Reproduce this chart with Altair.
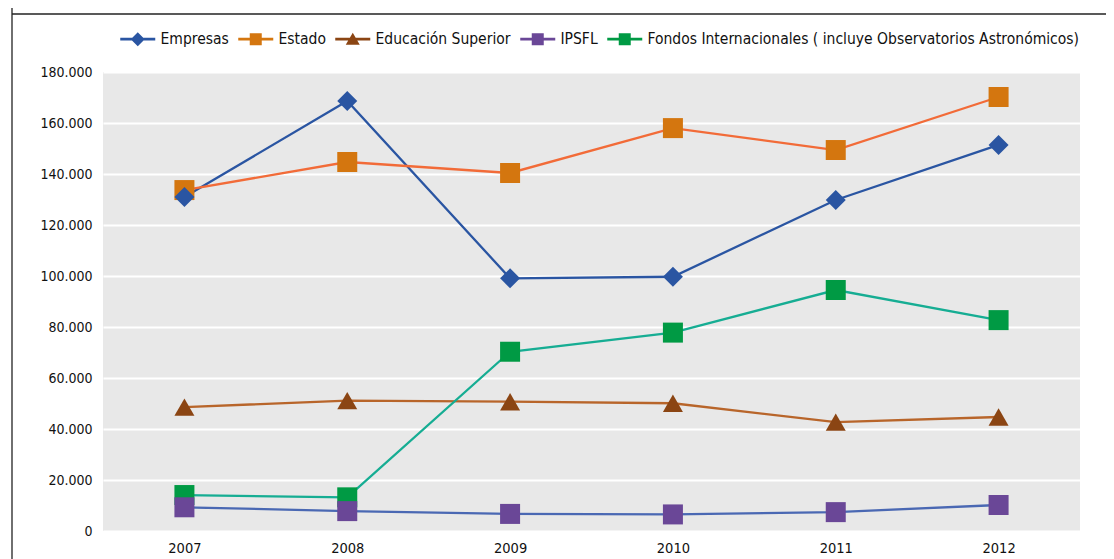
import altair as alt
import pandas as pd

years = ["2007", "2008", "2009", "2010", "2011", "2012"]
series = ["Empresas", "Estado", "Educación Superior", "IPSFL",
          "Fondos Internacionales ( incluye Observatorios Astronómicos)"]
empresas = [131000, 168600, 99100, 99700, 129800, 151400]
estado = [133700, 144700, 140400, 158000, 149400, 170200]
educacion = [48600, 51100, 50700, 50100, 42700, 44700]
ipsfl = [9300, 7800, 6700, 6500, 7400, 10200]
fondos = [14100, 13200, 70300, 77800, 94500, 82700]

line_colors = ["#2A55A2", "#F26B38", "#B8652A", "#4A68B3", "#16AD93"]
marker_colors = ["#2A55A2", "#D4760F", "#8B4513", "#6A4797", "#009A44"]
marker_shapes = ["diamond", "square", "triangle-up", "square", "square"]
y_ticks = [0, 20000, 40000, 60000, 80000, 100000, 120000, 140000, 160000, 180000]

rows = []
for s, vals in zip(series, [empresas, estado, educacion, ipsfl, fondos]):
    for y, v in zip(years, vals):
        rows.append({"year": y, "serie": s, "value": v})
df = pd.DataFrame(rows)
# earlier series drawn on top of later ones
df_points = df.iloc[::-1].reset_index(drop=True)

FONT = "Liberation Sans Narrow, DejaVu Sans Condensed, Roboto Condensed, Arial Narrow, sans-serif"

W, H = 977, 459

# legend symbol paths (line + marker), unit = sqrt(symbolSize)/2
bar = "M-3.5,-0.28H3.5V0.28H-3.5Z "
p_diamond = bar + "M0,-1.4L1.4,0L0,1.4L-1.4,0Z"
p_square = bar + "M-1.2,-1.2H1.2V1.2H-1.2Z"
p_tri = bar + "M0,-1.3L1.4,1.1H-1.4Z"
legend_shapes = [p_diamond, p_square, p_tri, p_square, p_square]

x_enc = alt.X("year:O", sort=years,
              scale=alt.Scale(type="point", padding=0.5),
              axis=alt.Axis(title=None, labelAngle=0, ticks=False, domain=False,
                            labelFont=FONT, labelFontSize=14.5, labelColor="#111111",
                            labelPadding=10, grid=False))
y_enc = alt.Y("value:Q",
              scale=alt.Scale(domain=[0, 180000], nice=False),
              axis=alt.Axis(title=None, values=y_ticks, ticks=False, domain=False,
                            labelFont=FONT, labelFontSize=14, labelColor="#111111",
                            labelPadding=11, gridColor="white", gridWidth=2.2,
                            labelExpr="datum.value == 0 ? '0' : replace(format(datum.value, ','), ',', '.')"))

lines = alt.Chart(df).mark_line(strokeWidth=2.3).encode(
    x=x_enc, y=y_enc,
    stroke=alt.Stroke("serie:N", sort=series,
                      scale=alt.Scale(domain=series, range=line_colors), legend=None),
    detail="serie:N",
)

points = alt.Chart(df_points).mark_point(filled=True, opacity=1, size=400).encode(
    x=x_enc, y=y_enc,
    fill=alt.Fill("serie:N", sort=series,
                  scale=alt.Scale(domain=series, range=marker_colors), legend=None),
    shape=alt.Shape("serie:N", sort=series,
                    scale=alt.Scale(domain=series, range=marker_shapes), legend=None),
)

leg_kw = dict(title=None, orient="none", direction="horizontal",
              legendX=27, legendY=-41,
              labelFont=FONT, labelFontSize=15.5, labelColor="#111111",
              labelLimit=800,
              symbolSize=100, labelOffset=15, columnPadding=9,
              symbolStrokeWidth=0)
legend_layer = alt.Chart(df).transform_filter("false").mark_point(
    filled=True, opacity=1, size=100
).encode(
    x=x_enc, y=y_enc,
    fill=alt.Fill("serie:N", sort=series,
                  scale=alt.Scale(domain=series, range=marker_colors),
                  legend=alt.Legend(**leg_kw)),
    shape=alt.Shape("serie:N", sort=series,
                    scale=alt.Scale(domain=series, range=legend_shapes),
                    legend=alt.Legend(**leg_kw)),
)

frame = alt.Chart(alt.Data(values=[{"a": 1}])).mark_rule(color="#222222", strokeWidth=1.3)
vrule = frame.encode(x=alt.value(-91), y=alt.value(-80), y2=alt.value(H + 40))
hrule = frame.encode(x=alt.value(-91), x2=alt.value(W + 30), y=alt.value(-58))

chart = alt.layer(lines, points, legend_layer, vrule, hrule).resolve_scale(
    fill="independent", stroke="independent", shape="independent"
).properties(
    width=W, height=H,
    autosize=alt.AutoSizeParams(type="none"),
    padding={"left": 95, "top": 64, "right": 26, "bottom": 28},
    background="white",
).configure_view(fill="#E8E8E8", stroke=None)

chart.save("out.html", embed_options={"renderer": "svg", "actions": False})
